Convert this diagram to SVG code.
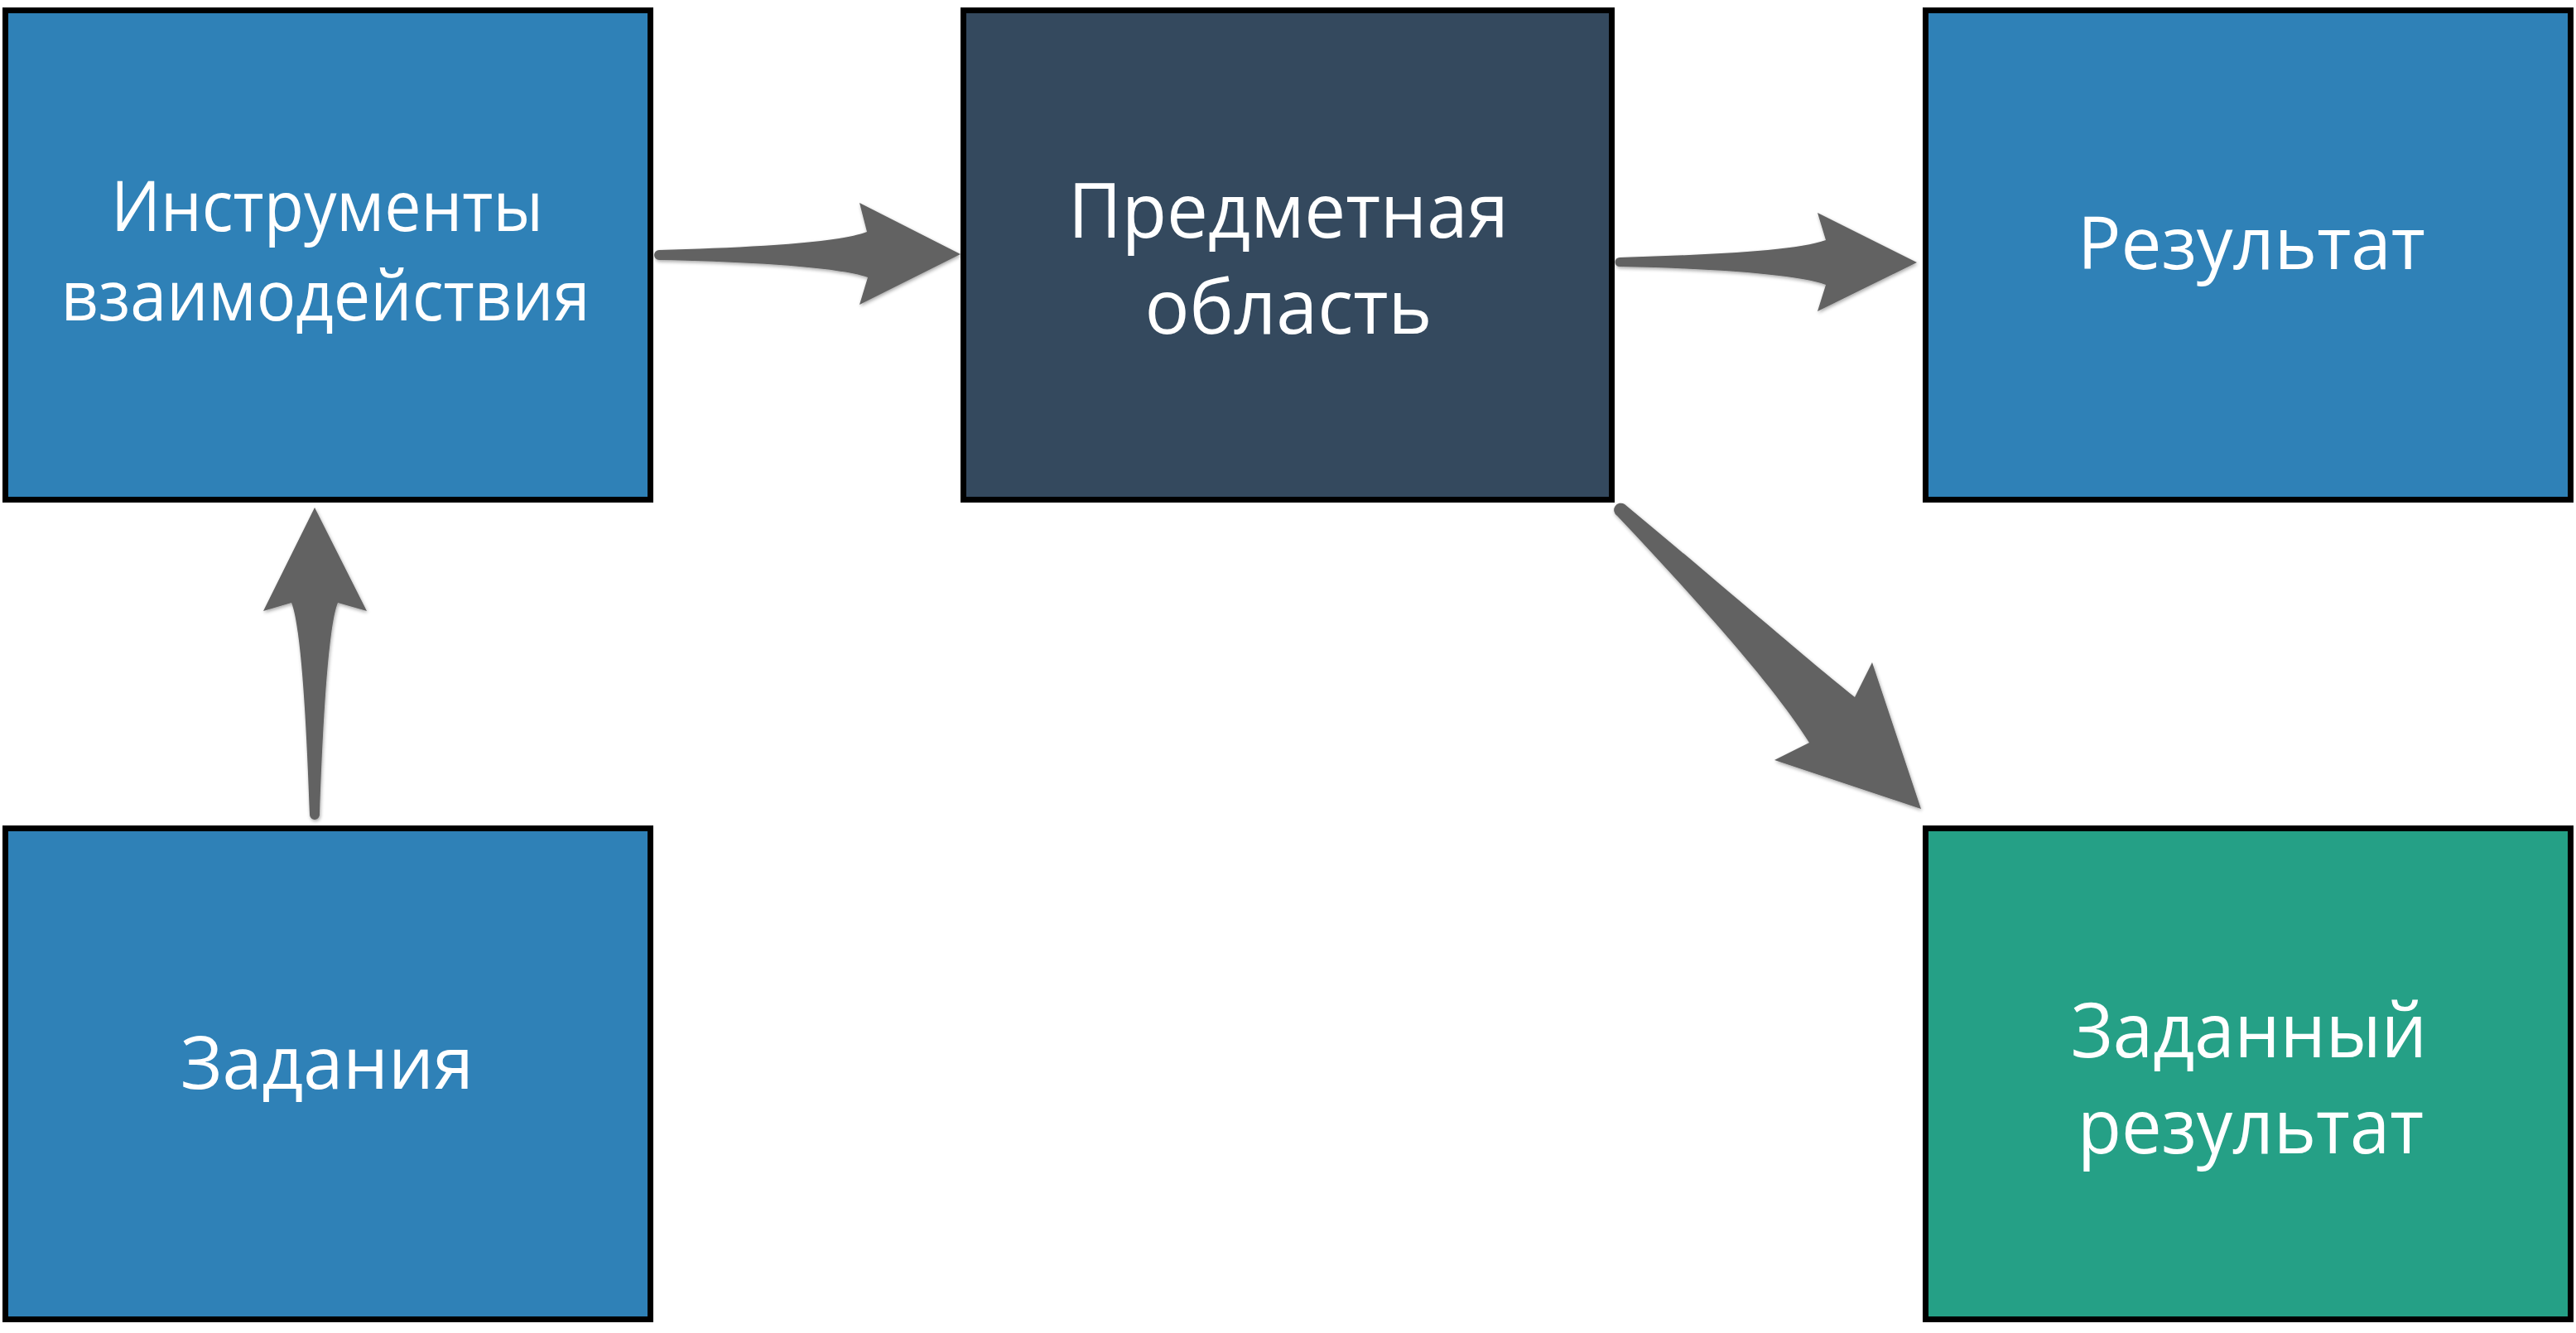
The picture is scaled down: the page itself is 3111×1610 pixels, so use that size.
<svg xmlns="http://www.w3.org/2000/svg" width="3111" height="1610" viewBox="0 0 3111 1610">
  <style>
    .box { stroke: #000000; stroke-width: 7; }
    .blue { fill: #2f81b7; }
    .dark { fill: #34495e; }
    .green { fill: #25a086; }
    .lbl { fill: #ffffff; font-family: "Open Sans", "Noto Sans", "Liberation Sans", sans-serif; font-size: 87px; text-anchor: middle; }
    .lbl1 { font-size: 84px; }
    .lbl2 { font-size: 91px; }
    .arrow { fill: #626262; filter: url(#sh); }
  </style>
  <defs>
    <filter id="sh" x="-10%" y="-10%" width="130%" height="130%">
      <feGaussianBlur in="SourceAlpha" stdDeviation="2"/>
      <feOffset dx="1" dy="2" result="b"/>
      <feComponentTransfer><feFuncA type="linear" slope="0.35"/></feComponentTransfer>
      <feMerge><feMergeNode/><feMergeNode in="SourceGraphic"/></feMerge>
    </filter>
  </defs>
  <rect width="3111" height="1610" fill="#ffffff"/>

  <g id="node-instruments">
    <rect class="box blue" x="6.5" y="12.5" width="779" height="591"/>
    <text class="lbl lbl1" x="395" y="279" textLength="522" lengthAdjust="spacingAndGlyphs">Инструменты</text>
    <text class="lbl lbl1" x="393" y="387" textLength="639" lengthAdjust="spacingAndGlyphs">взаимодействия</text>
  </g>

  <g id="node-subject">
    <rect class="box dark" x="1163.5" y="12.5" width="783" height="591"/>
    <text class="lbl lbl2" x="1556" y="287" textLength="532" lengthAdjust="spacingAndGlyphs">Предметная</text>
    <text class="lbl lbl2" x="1556" y="403" textLength="347" lengthAdjust="spacingAndGlyphs">область</text>
  </g>

  <g id="node-result">
    <rect class="box blue" x="2325.5" y="12.5" width="779" height="591"/>
    <text class="lbl" x="2719" y="325" textLength="420" lengthAdjust="spacingAndGlyphs">Результат</text>
  </g>

  <g id="node-tasks">
    <rect class="box blue" x="6.5" y="1000.5" width="779" height="593"/>
    <text class="lbl" x="395" y="1315" textLength="354" lengthAdjust="spacingAndGlyphs">Задания</text>
  </g>

  <g id="node-target">
    <rect class="box green" x="2325.5" y="1000.5" width="779" height="593"/>
    <text class="lbl lbl2" x="2716" y="1277" textLength="430" lengthAdjust="spacingAndGlyphs">Заданный</text>
    <text class="lbl lbl2" x="2718" y="1393" textLength="418" lengthAdjust="spacingAndGlyphs">результат</text>
  </g>

  <g id="connectors">
    <path class="arrow" d="M 796,302 C 900,299 1010,294 1047,280 L 1038,245 L 1160,307 L 1038,368 L 1048,335 C 1010,322 900,316 796,314 A 6,6 0 0 1 796,302 Z"/>
    <path class="arrow" d="M 1956,311 C 2060,308 2170,303 2205,290 L 2195,257 L 2315,317 L 2195,376 L 2205,344 C 2170,331 2060,324 1956,322 A 5.5,5.5 0 0 1 1956,311 Z"/>
    <path class="arrow" d="M 380,613 L 443,738 L 408,728 C 395,760 389,900 386,984 A 6,6 0 0 1 374,984 C 371,900 365,760 352,728 L 318,738 Z"/>
    <path class="arrow" d="M 1962,609 C 2060,690 2175,790 2240,842 L 2261,800 L 2320,977 L 2143,918 L 2185,897 C 2140,825 2040,715 1953,623 A 7,7 0 0 1 1962,609 Z"/>
  </g>
</svg>
